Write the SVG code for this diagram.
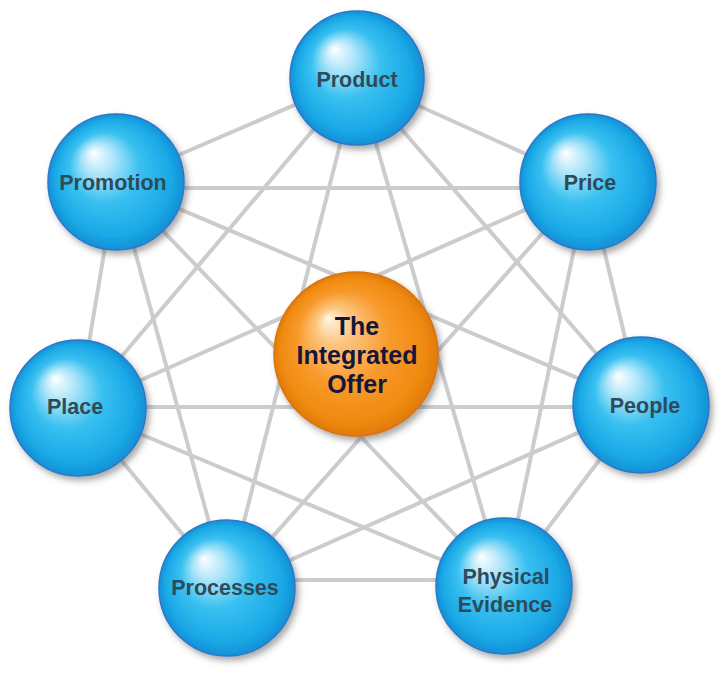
<svg xmlns="http://www.w3.org/2000/svg" width="725" height="674" viewBox="0 0 725 674">
<defs>
<radialGradient id="gBlue" cx="0.5" cy="0.5" r="0.5" fx="0.33" fy="0.28">
<stop offset="0" stop-color="#ffffff"/>
<stop offset="0.22" stop-color="#b0e6fa"/>
<stop offset="0.52" stop-color="#38c0f0"/>
<stop offset="0.86" stop-color="#1aa8e6"/>
<stop offset="1" stop-color="#1590d6"/>
</radialGradient>
<radialGradient id="gOrange" cx="0.5" cy="0.5" r="0.5" fx="0.33" fy="0.28">
<stop offset="0" stop-color="#fff6e6"/>
<stop offset="0.22" stop-color="#fcc680"/>
<stop offset="0.56" stop-color="#f89a2c"/>
<stop offset="0.88" stop-color="#f08a10"/>
<stop offset="1" stop-color="#e07a08"/>
</radialGradient>
<filter id="shadow" x="-20%" y="-20%" width="150%" height="150%">
<feDropShadow dx="3" dy="4" stdDeviation="3" flood-color="#404040" flood-opacity="0.45"/>
</filter>
</defs>
<style>
.edge{stroke:#cccccc;stroke-width:4;fill:none;stroke-linecap:round}
.blue{fill:url(#gBlue);stroke:#2a78c8;stroke-width:1.5;filter:url(#shadow)}
.orange{fill:url(#gOrange);stroke:#d87410;stroke-width:1.5;filter:url(#shadow)}
.lbl{font-family:"Liberation Sans",Arial,sans-serif;font-weight:bold;font-size:21.5px;fill:#2f4a58;text-anchor:middle}
.clbl{font-family:"Liberation Sans",Arial,sans-serif;font-weight:bold;font-size:25px;fill:#16163a;text-anchor:middle}
</style>
<rect width="725" height="674" fill="#ffffff"/>
<g id="connectors">
<line class="edge" x1="357" y1="78" x2="588" y2="182"/>
<line class="edge" x1="357" y1="78" x2="641" y2="405"/>
<line class="edge" x1="357" y1="78" x2="504" y2="586"/>
<line class="edge" x1="357" y1="78" x2="227" y2="588"/>
<line class="edge" x1="357" y1="78" x2="78" y2="408"/>
<line class="edge" x1="357" y1="78" x2="116" y2="182"/>
<line class="edge" x1="588" y1="182" x2="641" y2="405"/>
<line class="edge" x1="588" y1="182" x2="504" y2="586"/>
<line class="edge" x1="588" y1="182" x2="227" y2="588"/>
<line class="edge" x1="588" y1="182" x2="78" y2="408"/>
<line class="edge" x1="588" y1="188" x2="116" y2="188"/>
<line class="edge" x1="641" y1="405" x2="504" y2="586"/>
<line class="edge" x1="641" y1="405" x2="227" y2="588"/>
<line class="edge" x1="641" y1="407" x2="78" y2="407"/>
<line class="edge" x1="641" y1="405" x2="116" y2="182"/>
<line class="edge" x1="504" y1="580" x2="227" y2="580"/>
<line class="edge" x1="504" y1="586" x2="78" y2="408"/>
<line class="edge" x1="504" y1="586" x2="116" y2="182"/>
<line class="edge" x1="227" y1="588" x2="78" y2="408"/>
<line class="edge" x1="227" y1="588" x2="116" y2="182"/>
<line class="edge" x1="78" y1="408" x2="116" y2="182"/>
</g>
<g id="product">
<circle class="blue" cx="357" cy="78" r="67"/>
<text class="lbl" x="357" y="87">Product</text>
</g>
<g id="promotion">
<circle class="blue" cx="116" cy="182" r="68"/>
<text class="lbl" x="113" y="190">Promotion</text>
</g>
<g id="price">
<circle class="blue" cx="588" cy="182" r="68"/>
<text class="lbl" x="590" y="190">Price</text>
</g>
<g id="place">
<circle class="blue" cx="78" cy="408" r="68"/>
<text class="lbl" x="75" y="414">Place</text>
</g>
<g id="people">
<circle class="blue" cx="641" cy="405" r="68"/>
<text class="lbl" x="645" y="413">People</text>
</g>
<g id="processes">
<circle class="blue" cx="227" cy="588" r="68"/>
<text class="lbl" x="225" y="595">Processes</text>
</g>
<g id="physical-evidence">
<circle class="blue" cx="504" cy="586" r="68"/>
<text class="lbl" x="506" y="584">Physical</text>
<text class="lbl" x="505" y="612">Evidence</text>
</g>
<g id="integrated-offer">
<circle class="orange" cx="356" cy="354" r="82"/>
<text class="clbl" x="357" y="335">The</text>
<text class="clbl" x="357" y="364">Integrated</text>
<text class="clbl" x="357" y="393">Offer</text>
</g>
</svg>
